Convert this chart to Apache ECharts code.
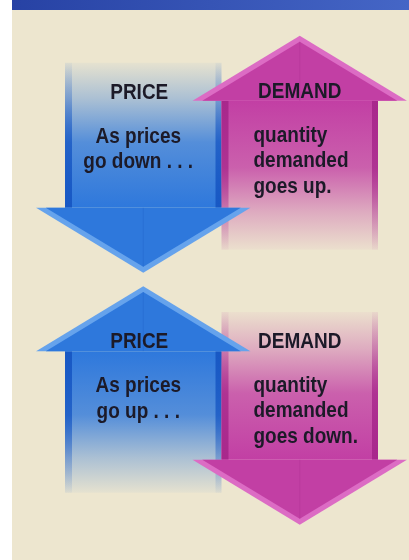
<!DOCTYPE html>
<html>
<head>
<meta charset="utf-8">
<style>
  html, body { margin: 0; padding: 0; background: #ffffff; }
  #chart { width: 409px; height: 560px; }
</style>
<script src="https://cdn.jsdelivr.net/npm/echarts@6/dist/echarts.min.js"></script>
</head>
<body>
<div id="chart"></div>
<script>
// 两列：价格 / 需求
const columns = ['PRICE', 'DEMAND'];
// 每个箭头所在的列、尾部和尖端的位置（纵轴 0-100，上大下小）
const arrowColumn = [0, 1, 0, 1];
const arrowTail = [88.8, 55.4, 12.0, 44.3];
const arrowTip = [51.3, 93.6, 48.9, 6.3];
// 标题与说明文字
const headings = ['PRICE', 'DEMAND', 'PRICE', 'DEMAND'];
const captions = [
    ['As prices', 'go down . . .'],
    ['quantity', 'demanded', 'goes up.'],
    ['As prices', 'go up . . .'],
    ['quantity', 'demanded', 'goes down.']
];

const palette = [
    { main: [46, 120, 220], light: '#66a3ec', dark: [24, 88, 196] },   // 蓝色
    { main: [194, 63, 164], light: '#dc6cc4', dark: [168, 40, 140] }   // 品红
];
const HEAD_LEN = 65;      // 箭头头部长度
const HEAD_RATIO = 0.685; // 头部半宽 / 列宽
const FONT = 'bold 19px "Liberation Sans", Arial, sans-serif';
const TEXT_COLOR = '#1c1a28';

const seriesData = arrowColumn.map((c, i) => [c, arrowTail[i], arrowTip[i]]);

function rgba(c, a) {
    return `rgba(${c[0]},${c[1]},${c[2]},${a})`;
}

// 计算箭头几何
function geom(api) {
    const col = api.value(0);
    const p1 = api.coord([col, api.value(1)]);
    const p2 = api.coord([col, api.value(2)]);
    const bw = api.size([1, 0])[0];
    const up = api.value(2) > api.value(1);
    const cx = p1[0];
    const tailY = p1[1];
    const tipY = p2[1];
    const wingY = up ? tipY + HEAD_LEN : tipY - HEAD_LEN;
    return { col, bw, up, cx, tailY, tipY, wingY };
}

function fade(up, c) {
    // 从尾部（淡）到头部（实）
    const stops = [
        { offset: 0, color: rgba(c, 0.04) },
        { offset: 0.25, color: rgba(c, 0.35) },
        { offset: 0.55, color: rgba(c, 0.8) },
        { offset: 1, color: rgba(c, 1) }
    ];
    return up
        ? new echarts.graphic.LinearGradient(0, 1, 0, 0, stops)
        : new echarts.graphic.LinearGradient(0, 0, 0, 1, stops);
}

function renderShaft(params, api) {
    const g = geom(api);
    const pal = palette[g.col];
    const top = Math.min(g.tailY, g.wingY);
    const h = Math.abs(g.wingY - g.tailY);
    const left = g.cx - g.bw / 2;
    return {
        type: 'group',
        children: [
            { type: 'rect', shape: { x: left, y: top, width: g.bw, height: h }, style: { fill: fade(g.up, pal.main) } },
            { type: 'rect', shape: { x: left, y: top, width: 7, height: h }, style: { fill: fade(g.up, pal.dark) } },
            { type: 'rect', shape: { x: left + g.bw - 6, y: top, width: 6, height: h }, style: { fill: fade(g.up, pal.dark) } }
        ]
    };
}

function renderHead(params, api) {
    const g = geom(api);
    const pal = palette[g.col];
    const half = g.bw * HEAD_RATIO;
    const dir = g.up ? 1 : -1;
    const d = 5;
    const outer = [[g.cx - half, g.wingY], [g.cx + half, g.wingY], [g.cx, g.tipY]];
    const inner = [
        [g.cx - half + d * 1.94, g.wingY],
        [g.cx + half - d * 1.94, g.wingY],
        [g.cx, g.tipY + dir * d * 1.17]
    ];
    return {
        type: 'group',
        children: [
            { type: 'polygon', shape: { points: outer }, style: { fill: pal.light } },
            { type: 'polygon', shape: { points: inner }, style: { fill: rgba(pal.main, 1) } },
            { type: 'line', shape: { x1: g.cx, y1: g.tipY + dir * d * 1.17, x2: g.cx, y2: g.wingY },
              style: { stroke: rgba(pal.dark, 0.25), lineWidth: 1 } }
        ]
    };
}

// 文字稍微拉高，接近原图的窄体字
function label(text, x, y, align) {
    return {
        type: 'text', x: x, y: y, scaleY: 1.13,
        style: {
            text: text, x: 0, y: 0, font: FONT, fill: TEXT_COLOR,
            textAlign: align, textVerticalAlign: 'middle'
        }
    };
}

function renderText(params, api) {
    const g = geom(api);
    const i = params.dataIndex;
    const headY = g.up ? g.wingY - 9 : g.tailY + 30;
    const children = [label(headings[i], g.cx + (g.col === 0 ? -4 : 0), headY, 'center')];
    captions[i].forEach((line, k) => {
        const isLeft = g.col === 1;
        children.push(label(
            line,
            isLeft ? g.cx - g.bw / 2 + 32 : g.cx - 5,
            headY + 44 + k * 25.5,
            isLeft ? 'left' : 'center'
        ));
    });
    return { type: 'group', children };
}

const chart = echarts.init(document.getElementById('chart'));
chart.setOption({
    backgroundColor: '#ffffff',
    animation: false,
    graphic: [
        { type: 'rect', z: 0, shape: { x: 12, y: 0, width: 397, height: 560 }, style: { fill: '#ede6cf' } },
        {
            type: 'rect', z: 0, shape: { x: 12, y: 0, width: 397, height: 10 },
            style: { fill: new echarts.graphic.LinearGradient(0, 0, 1, 0, [
                { offset: 0, color: '#2742a4' }, { offset: 1, color: '#4566c6' }
            ]) }
        }
    ],
    grid: { left: 65, right: 31, top: 0, bottom: 0 },
    xAxis: { type: 'category', data: columns, show: false },
    yAxis: { type: 'value', min: 0, max: 100, show: false },
    series: [
        { type: 'custom', z: 2, renderItem: renderShaft, data: seriesData, silent: true },
        { type: 'custom', z: 3, renderItem: renderHead, data: seriesData, silent: true },
        { type: 'custom', z: 4, renderItem: renderText, data: seriesData, silent: true }
    ]
});
</script>
</body>
</html>
